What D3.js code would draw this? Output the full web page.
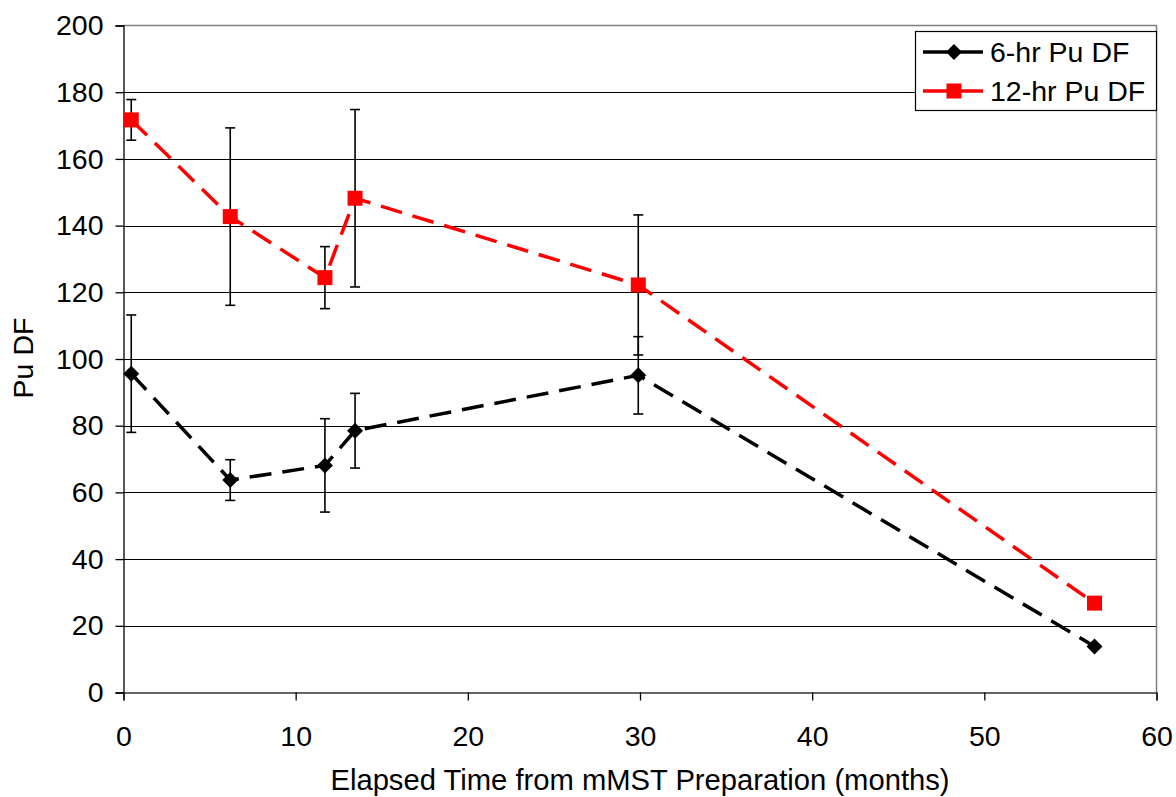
<!DOCTYPE html>
<html>
<head>
<meta charset="utf-8">
<script src="https://cdn.jsdelivr.net/npm/d3@7"></script>
<style>
  html, body { margin: 0; padding: 0; background: #fff; }
  svg { display: block; font-family: Arial, "Liberation Sans", sans-serif; }
</style>
</head>
<body>
<svg id="chart" width="1176" height="797"></svg>
<script>
// Elapsed time (months) for each measurement
const months = [0.45, 6.2, 11.7, 13.45, 29.9, 56.4];

// 6-hour contact Pu decontamination factor and its uncertainty
const df6 = [95.6, 63.7, 68.1, 78.5, 95.1, 13.8];
const err6 = [17.6, 6.1, 14.0, 11.2, 11.6, 0];

// 12-hour contact Pu decontamination factor and its uncertainty
const df12 = [171.7, 142.7, 124.4, 148.2, 122.2, 26.8];
const err12 = [6.1, 26.6, 9.3, 26.6, 21.0, 0];

const xTicks = [0, 10, 20, 30, 40, 50, 60];
const yTicks = [0, 20, 40, 60, 80, 100, 120, 140, 160, 180, 200];

const seriesNames = ["6-hr Pu DF", "12-hr Pu DF"];

const FONT = 28.5;
const svg = d3.select("#chart");
const plot = { left: 123.5, right: 1156.5, top: 25.5, bottom: 692.5 };

const x = d3.scaleLinear().domain([0, 60]).range([plot.left, plot.right]);
const y = d3.scaleLinear().domain([0, 200]).range([plot.bottom, plot.top]);

// horizontal gridlines
svg.append("g")
  .selectAll("line")
  .data(yTicks.filter(v => v > 0 && v < 200))
  .join("line")
  .attr("x1", plot.left).attr("x2", plot.right)
  .attr("y1", d => Math.round(y(d)) + 0.5).attr("y2", d => Math.round(y(d)) + 0.5)
  .attr("stroke", "#000").attr("stroke-width", 1);

// plot-area frame (top and right)
svg.append("path")
  .attr("d", `M${plot.left},${plot.top}H${plot.right}V${plot.bottom}`)
  .attr("fill", "none").attr("stroke", "#808080").attr("stroke-width", 1.5);

// y axis
const yAxis = d3.axisLeft(y).tickValues(yTicks).tickSize(8).tickPadding(12).tickFormat(d3.format("d"));
const gy = svg.append("g").attr("transform", `translate(${plot.left},0)`).call(yAxis);
gy.select(".domain").attr("stroke", "#000").attr("stroke-width", 1.3);
gy.selectAll(".tick line").attr("stroke", "#000").attr("stroke-width", 1.3);
gy.selectAll(".tick text").attr("font-size", FONT).attr("fill", "#000")
  .attr("font-family", "Arial, 'Liberation Sans', sans-serif");

// x axis
const xAxis = d3.axisBottom(x).tickValues(xTicks).tickSize(8).tickPadding(25).tickFormat(d3.format("d"));
const gx = svg.append("g").attr("transform", `translate(0,${plot.bottom})`).call(xAxis);
gx.select(".domain").attr("stroke", "#333").attr("stroke-width", 1.3);
gx.selectAll(".tick line").attr("stroke", "#000").attr("stroke-width", 1.3);
gx.selectAll(".tick text").attr("font-size", FONT).attr("fill", "#000")
  .attr("font-family", "Arial, 'Liberation Sans', sans-serif");

// axis titles
svg.append("text")
  .attr("x", 640).attr("y", 790)
  .attr("text-anchor", "middle").attr("font-size", 29.2).attr("fill", "#000")
  .text("Elapsed Time from mMST Preparation (months)");

svg.append("text")
  .attr("transform", `translate(33,358) rotate(-90)`)
  .attr("text-anchor", "middle").attr("font-size", FONT).attr("fill", "#000")
  .text("Pu DF");

const series = [
  { values: df6, errs: err6, color: "#000", marker: "diamond" },
  { values: df12, errs: err12, color: "#ff0000", marker: "square" }
];

const line = d3.line().x(d => x(d[0])).y(d => y(d[1]));

// dashed connecting lines
series.forEach(s => {
  svg.append("path")
    .datum(months.map((m, i) => [m, s.values[i]]))
    .attr("d", line)
    .attr("fill", "none")
    .attr("stroke", s.color)
    .attr("stroke-width", 3.5)
    .attr("stroke-dasharray", "22,11");
});

// error bars
series.forEach(s => {
  const g = svg.append("g").attr("stroke", "#000").attr("stroke-width", 1.6);
  months.forEach((m, i) => {
    if (!s.errs[i]) return;
    const cx = x(m);
    const hi = y(s.values[i] + s.errs[i]);
    const lo = y(s.values[i] - s.errs[i]);
    g.append("line").attr("x1", cx).attr("x2", cx).attr("y1", hi).attr("y2", lo);
    g.append("line").attr("x1", cx - 5).attr("x2", cx + 5).attr("y1", hi).attr("y2", hi);
    g.append("line").attr("x1", cx - 5).attr("x2", cx + 5).attr("y1", lo).attr("y2", lo);
  });
});

function drawMarker(g, type, cx, cy, color) {
  if (type === "square") {
    g.append("rect").attr("x", cx - 7.5).attr("y", cy - 7.5)
      .attr("width", 15).attr("height", 15).attr("fill", color);
  } else {
    const r = 8;
    g.append("path")
      .attr("d", `M${cx},${cy - r}L${cx + r},${cy}L${cx},${cy + r}L${cx - r},${cy}Z`)
      .attr("fill", color);
  }
}

// markers
series.forEach(s => {
  const g = svg.append("g");
  months.forEach((m, i) => drawMarker(g, s.marker, x(m), y(s.values[i]), s.color));
});

// legend
const legend = svg.append("g");
legend.append("rect")
  .attr("x", 915.5).attr("y", 31.5).attr("width", 241).attr("height", 79)
  .attr("fill", "#fff").attr("stroke", "#000").attr("stroke-width", 1.2);
series.forEach((s, i) => {
  const ly = 52 + i * 39;
  legend.append("line")
    .attr("x1", 923).attr("x2", 983).attr("y1", ly).attr("y2", ly)
    .attr("stroke", s.color).attr("stroke-width", 3.5);
  drawMarker(legend, s.marker, 954, ly, s.color);
  legend.append("text")
    .attr("x", 990).attr("y", ly + 10)
    .attr("font-size", FONT).attr("fill", "#000")
    .text(seriesNames[i]);
});
</script>
</body>
</html>
